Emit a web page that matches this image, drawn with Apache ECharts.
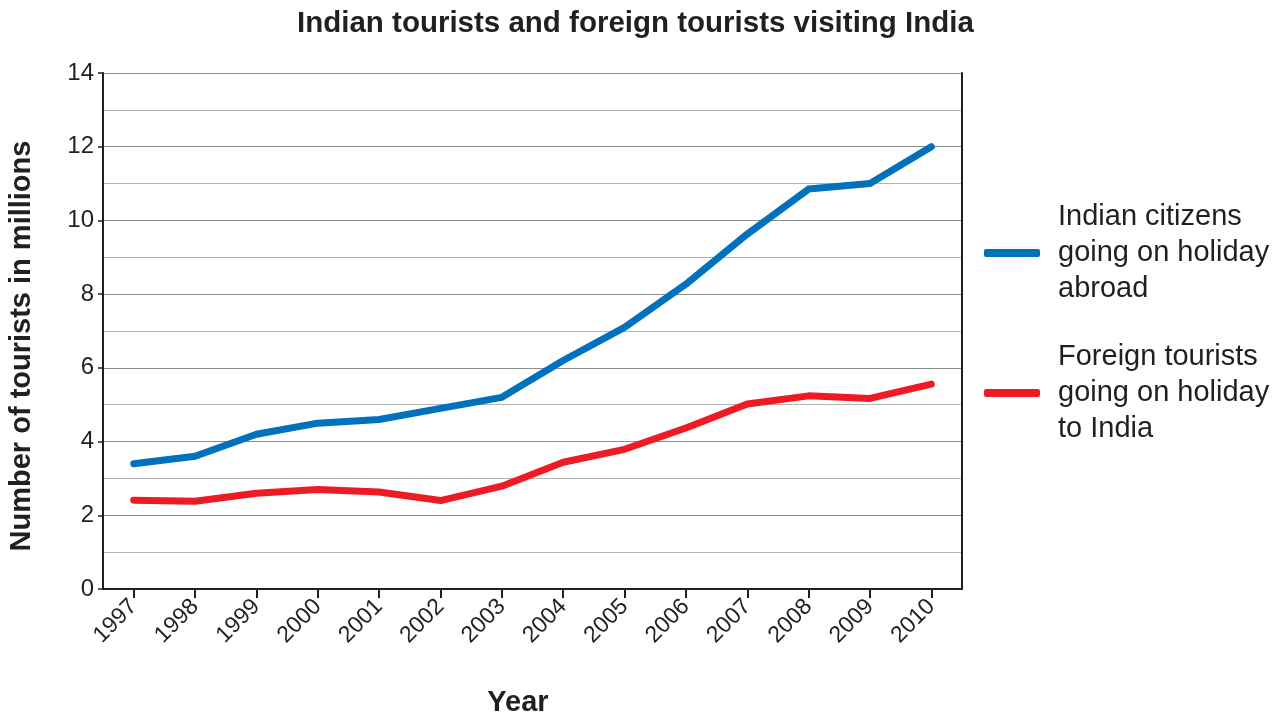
<!DOCTYPE html>
<html>
<head>
<meta charset="utf-8">
<script src="https://cdn.jsdelivr.net/npm/echarts@6/dist/echarts.min.js"></script>
<style>
  html, body { margin: 0; padding: 0; background: #fff; }
  #chart { width: 1287px; height: 720px; }
</style>
</head>
<body>
<div id="chart"></div>
<script>
// data
var years = ['1997', '1998', '1999', '2000', '2001', '2002', '2003', '2004', '2005', '2006', '2007', '2008', '2009', '2010'];
var indianAbroad = [3.4, 3.6, 4.2, 4.5, 4.6, 4.9, 5.2, 6.2, 7.1, 8.27, 9.63, 10.85, 11.0, 12.0];
var foreignToIndia = [2.41, 2.38, 2.6, 2.7, 2.63, 2.4, 2.79, 3.44, 3.79, 4.37, 5.02, 5.24, 5.17, 5.56];
var seriesNames = ['Indian citizens\ngoing on holiday\nabroad', 'Foreign tourists\ngoing on holiday\nto India'];

var textColor = '#231f20';
var font = "'Liberation Sans', Arial, sans-serif";

var chart = echarts.init(document.getElementById('chart'));

var option = {
  backgroundColor: '#fff',
  animation: false,
  title: {
    text: 'Indian tourists and foreign tourists visiting India',
    left: 292,
    top: 4,
    textStyle: { fontFamily: font, fontSize: 29.5, fontWeight: 'bold', color: textColor }
  },
  legend: {
    orient: 'vertical',
    left: 979,
    top: 194,
    itemWidth: 56,
    itemHeight: 8,
    itemGap: 32,
    icon: 'roundRect',
    textStyle: { fontFamily: font, fontSize: 29, lineHeight: 36, color: textColor, padding: [0, 0, 0, 13] },
    data: seriesNames
  },
  grid: { left: 103, right: 325, top: 73, bottom: 131, containLabel: false },
  xAxis: {
    type: 'category',
    data: years,
    boundaryGap: true,
    axisLine: { show: true, lineStyle: { color: textColor, width: 2 } },
    axisTick: { show: true, alignWithLabel: true, length: 9, lineStyle: { color: textColor, width: 2 } },
    axisLabel: { rotate: 45, margin: 14, fontFamily: font, fontSize: 23, color: textColor },
    splitLine: { show: false }
  },
  yAxis: [
    {
      type: 'value',
      min: 0,
      max: 14,
      interval: 2,
      axisLine: { show: true, lineStyle: { color: textColor, width: 2 } },
      axisTick: { show: true, length: 5, lineStyle: { color: textColor, width: 1.5 } },
      axisLabel: { margin: 9, fontFamily: font, fontSize: 24, color: textColor },
      splitLine: { show: true, lineStyle: { color: '#8c8c8c', width: 1.2 } },
      minorTick: { show: false, splitNumber: 2 },
      minorSplitLine: { show: true, lineStyle: { color: '#b3b3b3', width: 1.2 } }
    },
    {
      type: 'value',
      position: 'right',
      min: 0,
      max: 14,
      interval: 2,
      axisLine: { show: true, lineStyle: { color: textColor, width: 2 } },
      axisTick: { show: false },
      axisLabel: { show: false },
      splitLine: { show: false }
    }
  ],
  graphic: [
    {
      type: 'text',
      x: 22,
      y: 346,
      rotation: Math.PI / 2,
      style: {
        text: 'Number of tourists in millions',
        fontFamily: font, fontSize: 29, fontWeight: 'bold', fill: textColor,
        align: 'center', verticalAlign: 'middle'
      }
    },
    {
      type: 'text',
      x: 518,
      y: 703,
      style: {
        text: 'Year',
        fontFamily: font, fontSize: 29, fontWeight: 'bold', fill: textColor,
        align: 'center', verticalAlign: 'middle'
      }
    }
  ],
  series: [
    {
      name: seriesNames[0],
      type: 'line',
      data: indianAbroad,
      symbol: 'none',
      color: '#0071bc',
      lineStyle: { color: '#0071bc', width: 7, cap: 'round', join: 'round' }
    },
    {
      name: seriesNames[1],
      type: 'line',
      data: foreignToIndia,
      symbol: 'none',
      color: '#ed1c24',
      lineStyle: { color: '#ed1c24', width: 7, cap: 'round', join: 'round' }
    }
  ]
};

chart.setOption(option);
</script>
</body>
</html>
